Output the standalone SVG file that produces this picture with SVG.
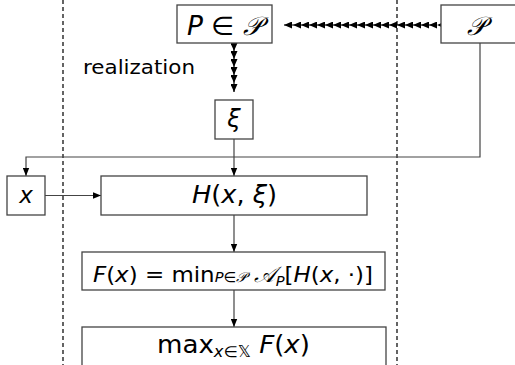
<svg xmlns="http://www.w3.org/2000/svg" width="515" height="365" viewBox="0 0 515 365">
<style>
.box{fill:#fff;stroke:#444;stroke-width:1.3}
.ln{fill:none;stroke:#444;stroke-width:1.2}
.dash{fill:none;stroke:#111;stroke-width:1.3;stroke-dasharray:4 3}
.m{font-family:"DejaVu Sans","Noto Sans",sans-serif;font-style:italic;fill:#000}
.r{font-family:"DejaVu Sans","Noto Sans",sans-serif;font-style:normal;fill:#000}
</style>
<defs>
<marker id="ah" viewBox="0 0 10 8" refX="10" refY="4" markerWidth="8" markerHeight="7" markerUnits="userSpaceOnUse" orient="auto">
<path d="M0,0 L10,4 L0,8 Z" fill="#000"/>
</marker>
<marker id="ch" viewBox="0 0 8 7" refX="8" refY="3.5" markerWidth="8" markerHeight="7" markerUnits="userSpaceOnUse" orient="auto">
<path d="M0,0 L8,3.5 L0,7 Z" fill="#000"/>
</marker>
</defs>
<g id="guides">
<line class="dash" x1="63" y1="0" x2="63" y2="365"/>
<line class="dash" x1="397" y1="0" x2="397" y2="365"/>
</g>
<g id="connectors">
<polyline class="ln" style="stroke:#000" marker-start="url(#ch)" marker-mid="url(#ch)" marker-end="url(#ch)" points="437,25 429,25 421,25 413,25 405,25 397,25 389,25 381,25 373,25 365,25 357,25 349,25 341,25 333,25 325,25 317,25 309,25 301,25 293,25 284,25"/>
<polyline class="ln" style="stroke:#000" marker-mid="url(#ch)" marker-end="url(#ch)" points="234,43 234,51 234,59 234,67 234,75 234,83 234,92"/>
<line class="ln" x1="234" y1="139" x2="234" y2="176" marker-end="url(#ah)"/>
<polyline class="ln" points="480,43 480,157 26,157 26,176" marker-end="url(#ah)"/>
<line class="ln" x1="45" y1="195.5" x2="101" y2="195.5" marker-end="url(#ah)"/>
<line class="ln" x1="234" y1="215" x2="234" y2="252" marker-end="url(#ah)"/>
<line class="ln" x1="234" y1="290" x2="234" y2="327" marker-end="url(#ah)"/>
</g>
<g id="label-realization">
<text class="r" x="83" y="74" font-size="19" textLength="112" lengthAdjust="spacingAndGlyphs">realization</text>
</g>
<g id="node-PinP">
<rect class="box" x="177" y="5" width="95" height="38"/>
<text class="m" x="224.5" y="35" font-size="26" text-anchor="middle" textLength="75" lengthAdjust="spacingAndGlyphs">P <tspan class="r">∈</tspan> 𝒫</text>
</g>
<g id="node-Pcal">
<rect class="box" x="441" y="5" width="90" height="38"/>
<text class="m" x="476" y="35" font-size="26" text-anchor="middle">𝒫</text>
</g>
<g id="node-xi">
<rect class="box" x="215" y="100" width="38" height="39"/>
<text class="m" x="234" y="127" font-size="24" text-anchor="middle">ξ</text>
</g>
<g id="node-x">
<rect class="box" x="7" y="176" width="38" height="39"/>
<text class="m" x="26" y="203" font-size="23" text-anchor="middle">x</text>
</g>
<g id="node-H">
<rect class="box" x="101" y="176" width="266" height="39"/>
<text class="m" x="234.5" y="203" font-size="24" text-anchor="middle" textLength="85" lengthAdjust="spacingAndGlyphs">H<tspan class="r">(</tspan>x<tspan class="r">,</tspan> ξ<tspan class="r">)</tspan></text>
</g>
<g id="node-F">
<rect class="box" x="82" y="252" width="303" height="38"/>
<text class="m" x="233" y="282" font-size="22" text-anchor="middle" textLength="280" lengthAdjust="spacingAndGlyphs">F<tspan class="r">(</tspan>x<tspan class="r">) = min</tspan><tspan font-size="14">P</tspan><tspan class="r" font-size="14">∈</tspan><tspan font-size="14">𝒫</tspan> 𝒜<tspan font-size="14" dy="4">P</tspan><tspan class="r" dy="-4">[</tspan>H<tspan class="r">(</tspan>x<tspan class="r">, ·)]</tspan></text>
</g>
<g id="node-max">
<rect class="box" x="82" y="327" width="304" height="50"/>
<text class="r" x="233.5" y="353" font-size="24" text-anchor="middle" textLength="153" lengthAdjust="spacingAndGlyphs">max<tspan class="m" font-size="15" dy="4">x</tspan><tspan font-size="15">∈𝕏</tspan><tspan dy="-4"> </tspan><tspan class="m">F</tspan>(<tspan class="m">x</tspan>)</text>
</g>
</svg>
